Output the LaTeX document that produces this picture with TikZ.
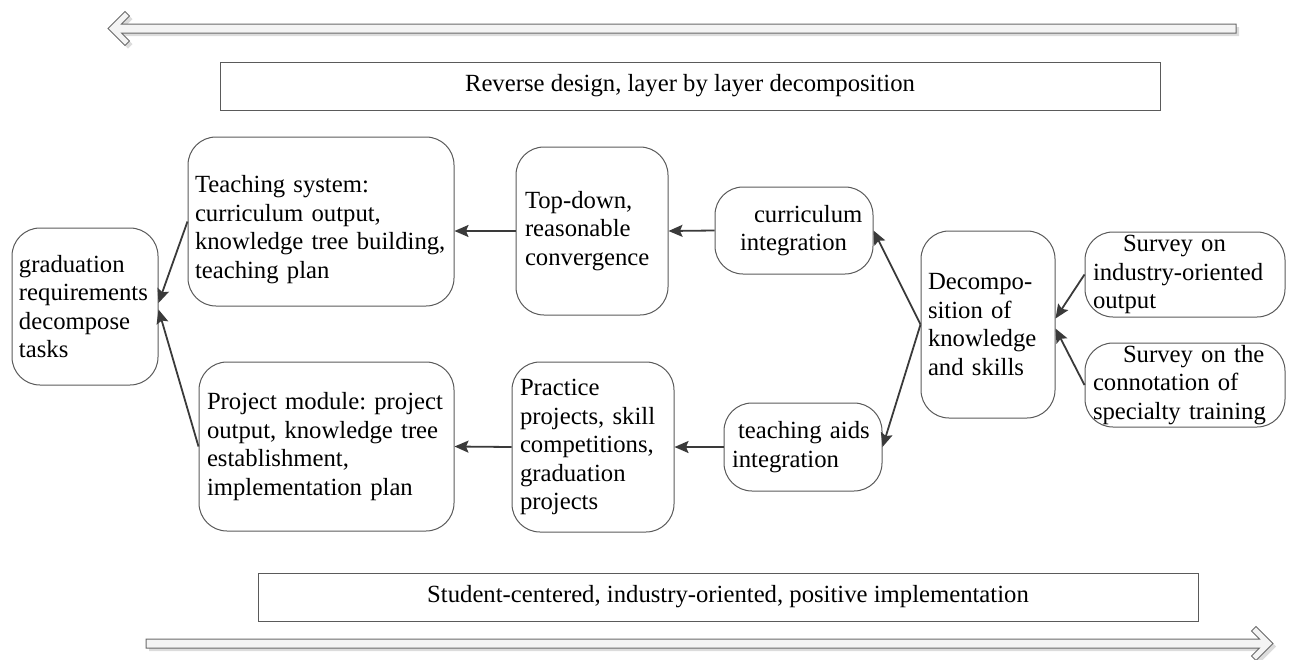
\documentclass[tikz,border=0pt]{standalone}
\usepackage{fontspec}
\setmainfont{Liberation Serif}
\usetikzlibrary{arrows.meta}
\definecolor{edgegray}{HTML}{5A5A5A}
\definecolor{linkgray}{HTML}{3A3A3A}
\definecolor{bandfill}{HTML}{F4F4F4}
\definecolor{bandshade}{HTML}{DCDCDC}
\definecolor{bandedge}{HTML}{6A6A6A}
% outline of the wide hollow arrows (left- and right-pointing)
\newcommand\leftband{(108,28.5) -- (125,11.5) -- (129.5,16) -- (121.5,24) -- (1236,24) -- (1236,33) -- (121.5,33) -- (129.5,41) -- (125,45.5) -- cycle}
\newcommand\rightband{(1273,643.5) -- (1256,626.5) -- (1251.5,631) -- (1259.5,639) -- (146,639) -- (146,648) -- (1259.5,648) -- (1251.5,656) -- (1256,660.5) -- cycle}
\begin{document}
\begin{tikzpicture}[x=1pt,y=-1pt,
  every node/.style={font=\fontsize{24.7}{28.5}\selectfont\frenchspacing},
  roundbox/.style={draw=edgegray, line width=1pt, rounded corners=28pt,
                   inner ysep=0pt},
  banner/.style={draw=edgegray, line width=1pt, inner sep=0pt,
                 minimum width=940pt, minimum height=48pt},
  link/.style={draw=linkgray, line width=1.8pt,
               -{Stealth[length=14pt,width=12pt,inset=2.5pt]}},
  hollow/.style={fill=bandfill, draw=bandedge, line width=1pt, line join=miter},
  hollowshade/.style={fill=bandshade},
]
\useasboundingbox (0,0) rectangle (1290,659);

% direction bands
\path[hollowshade, shift={(3,3)}] \leftband;
\path[hollow] \leftband;
\path[hollowshade, shift={(3,3)}] \rightband;
\path[hollow] \rightband;

% headline bars
\node[banner] (reverse) at (690,86) {Reverse design, layer by layer decomposition};
\node[banner] (forward) at (728,597) {Student-centered, industry-oriented, positive implementation};

% process boxes
\node[roundbox, minimum width=146pt, minimum height=157pt, inner xsep=7pt, text width=132pt]
  (grad) at (85,306.5) {graduation\\requirements\\decompose\\tasks};
\node[roundbox, minimum width=266pt, minimum height=169pt, inner xsep=7pt, text width=252pt]
  (teach) at (321,221.5) {\rule{0pt}{33pt}Teaching system:\\curriculum output,\\knowledge tree building,\\teaching plan};
\node[roundbox, minimum width=152pt, minimum height=168pt, inner xsep=9pt, text width=134pt]
  (topdown) at (592,231) {Top-down,\\reasonable\\convergence};
\node[roundbox, minimum width=158pt, minimum height=87pt, inner xsep=8pt, text width=142pt]
  (curint) at (794,230.5) {\hspace*{31pt}curriculum\\\hspace*{17pt}integration};
\node[roundbox, minimum width=134pt, minimum height=187pt, inner xsep=7pt, text width=120pt]
  (decomp) at (988,324.5) {Decompo-\\sition of\\knowledge\\and skills};
\node[roundbox, minimum width=200pt, minimum height=85pt, inner xsep=8pt, text width=184pt]
  (survey1) at (1185,274.5) {\hspace*{30pt}Survey on\\industry-oriented\\output};
\node[roundbox, minimum width=200pt, minimum height=84pt, inner xsep=8pt, text width=184pt]
  (survey2) at (1185,385) {\hspace*{30pt}Survey on the\\connotation of\\specialty training};
\node[roundbox, minimum width=255pt, minimum height=169pt, inner xsep=8pt, text width=239pt]
  (project) at (326.5,446.5) {Project module: project\\output, knowledge tree\\establishment,\\implementation plan};
\node[roundbox, minimum width=162pt, minimum height=170pt, inner xsep=8pt, text width=146pt]
  (practice) at (593,447) {Practice\\projects, skill\\competitions,\\graduation\\projects};
\node[roundbox, minimum width=158pt, minimum height=88pt, inner xsep=8pt, text width=142pt]
  (aids) at (803,447) {\hspace*{6pt}teaching aids\\integration};

% connectors
\draw[link] (curint.west) -- (topdown.east);
\draw[link] (topdown.west) -- (topdown.west -| teach.east);
\draw[link] (teach.west) -- ([yshift=3.5pt]grad.east);
\draw[link] (project.west) -- ([yshift=-3pt]grad.east);
\draw[link] (decomp.west) -- (curint.east);
\draw[link] (decomp.west) -- (aids.east);
\draw[link] (survey1.west) -- ([yshift=6pt]decomp.east);
\draw[link] (survey2.west) -- ([yshift=-4pt]decomp.east);
\draw[link] (aids.west) -- (practice.east);
\draw[link] (practice.west) -- (project.east);
\end{tikzpicture}
\end{document}
